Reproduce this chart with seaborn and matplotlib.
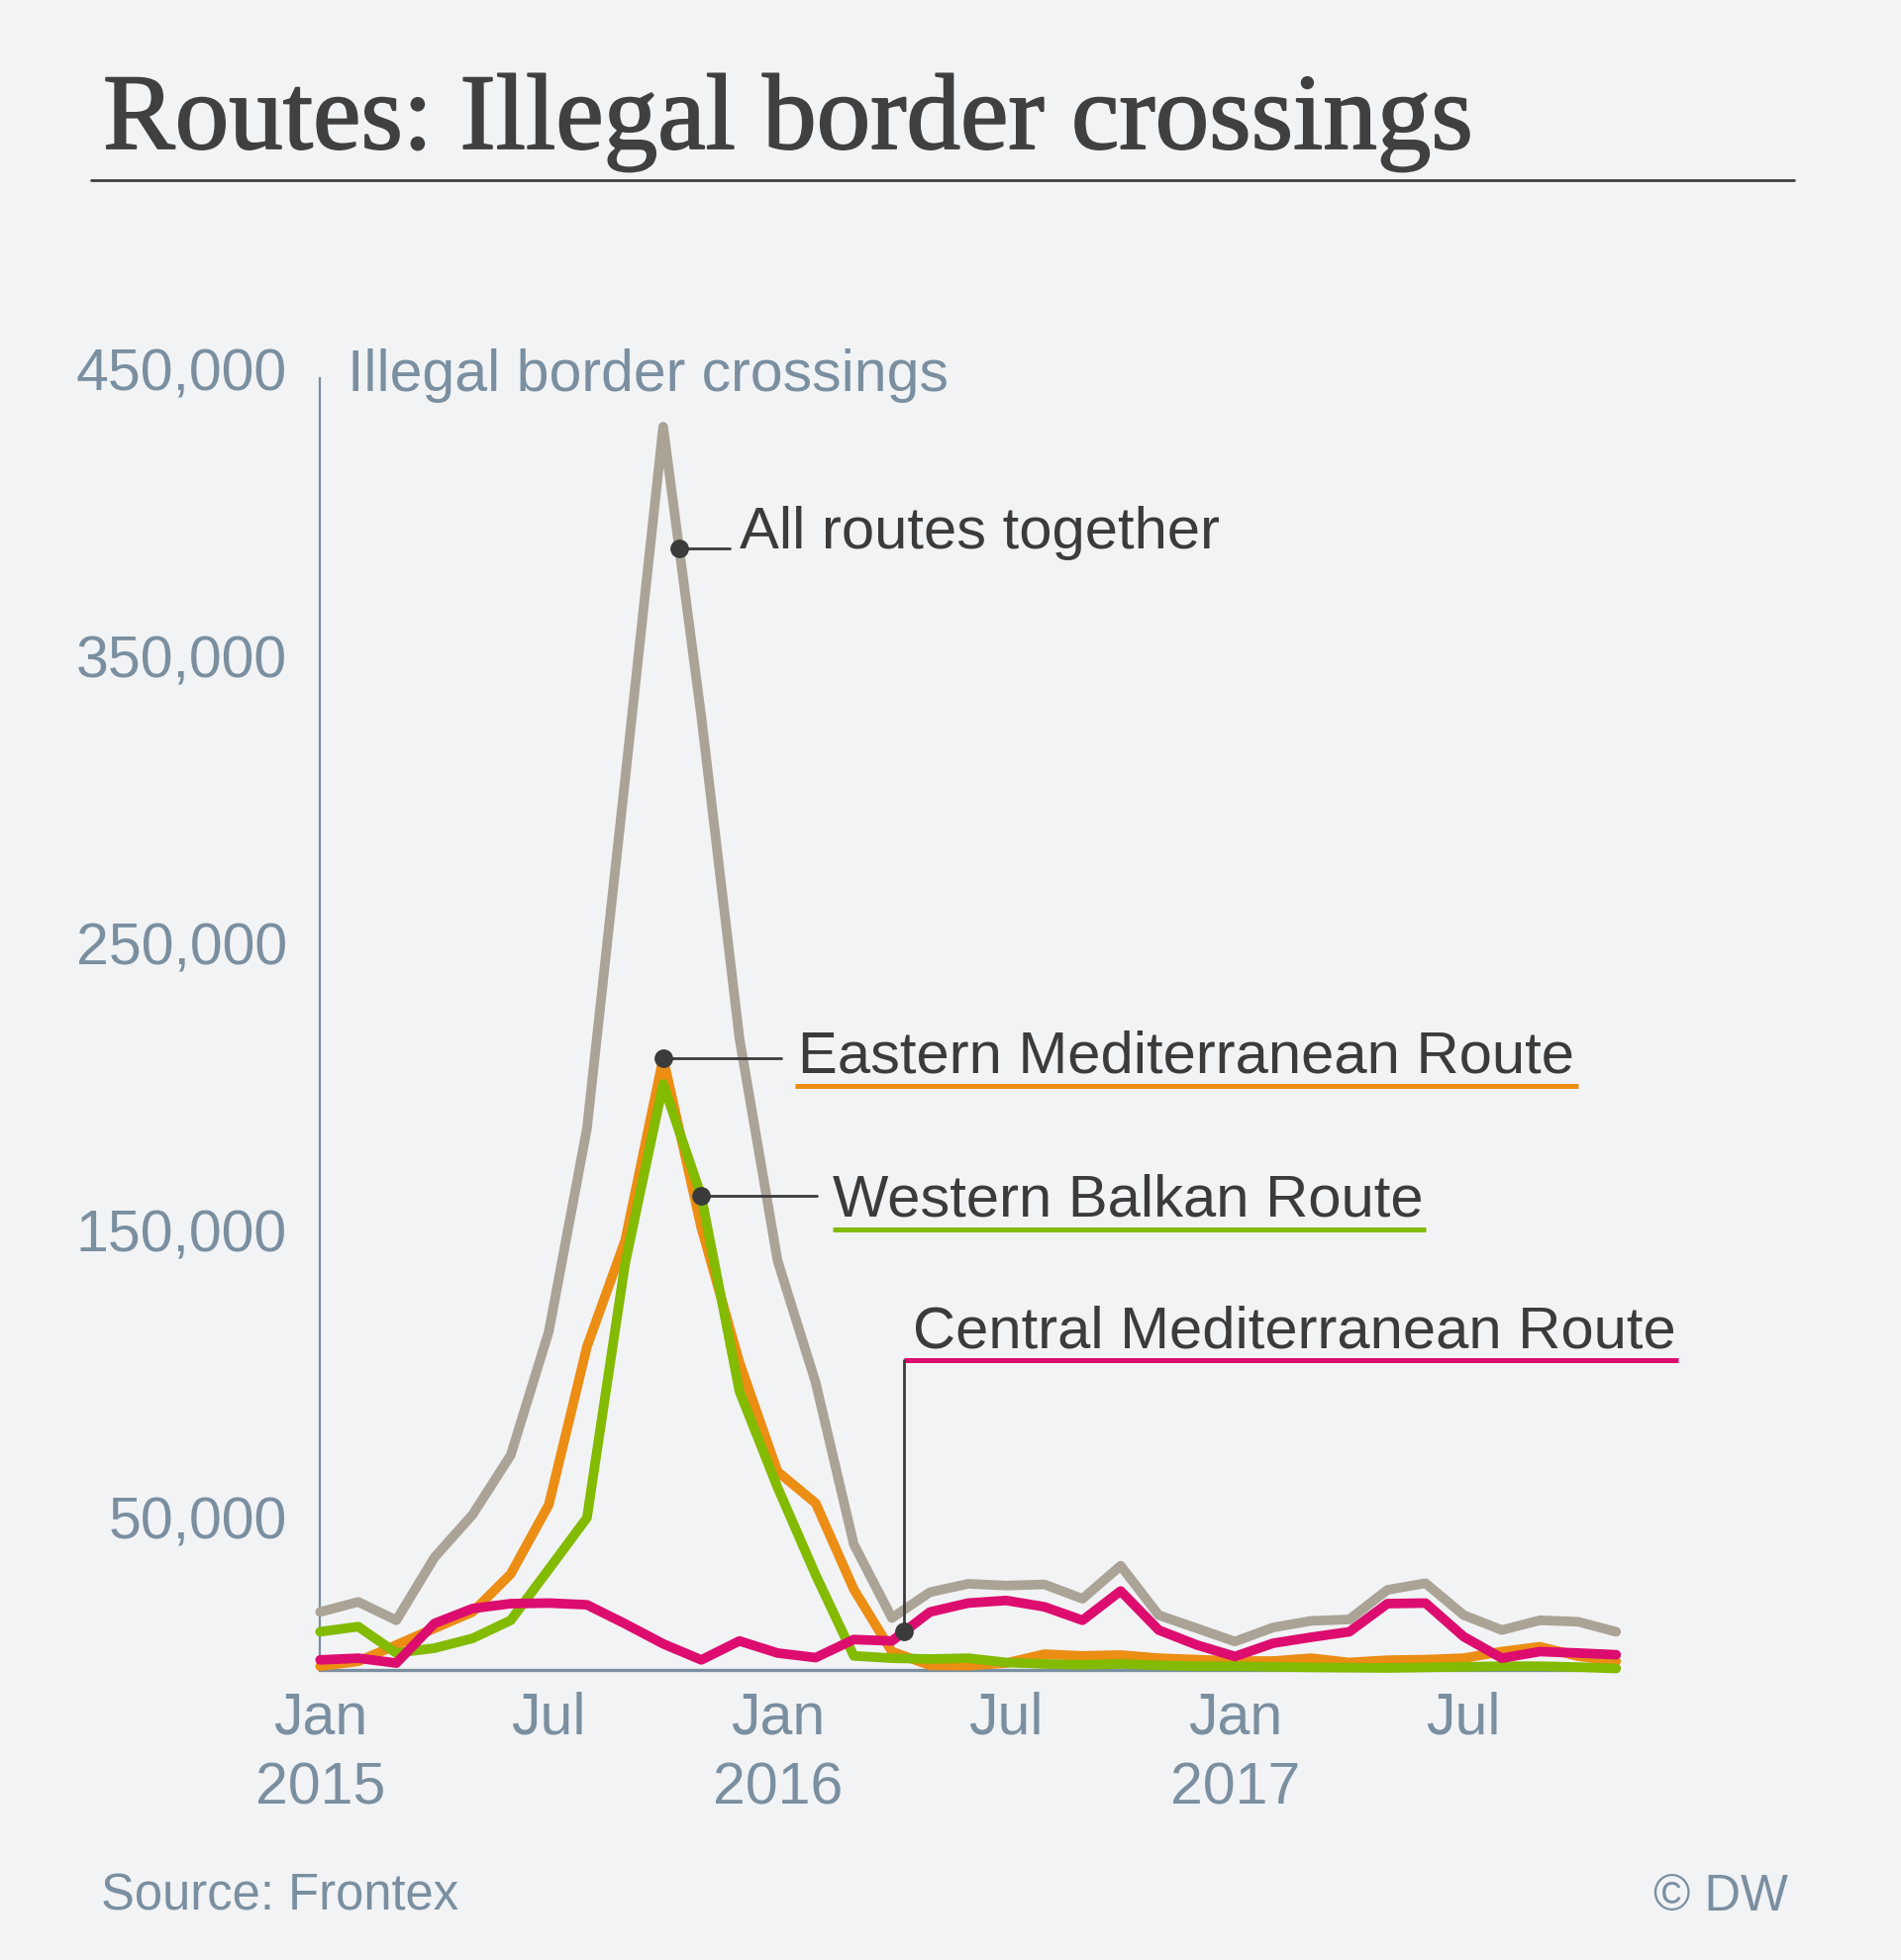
import numpy as np
import pandas as pd
import matplotlib.pyplot as plt
import matplotlib.patheffects as pe
import seaborn as sns
from matplotlib.lines import Line2D
from matplotlib.transforms import ScaledTranslation

months = pd.date_range("2015-01-01", periods=35, freq="MS")
all_routes = [20100, 23600, 17200, 39100, 54000, 74700, 117800, 188500, 310000, 433000,
              332000, 220000, 142500, 100000, 43700, 18000, 27000, 29900, 29300, 29700,
              24700, 36200, 19000, 14400, 9800, 14700, 17000, 17500, 27800, 30100,
              19000, 13800, 17200, 16700, 13200]
eastern_med = [1200, 2900, 8600, 14400, 20100, 33300, 57500, 112500, 149400, 213000,
               154000, 107000, 69000, 58000, 28000, 6300, 1500, 1400, 2300, 5400,
               4800, 5100, 4000, 3500, 3000, 3000, 4000, 2500, 3300, 3500,
               4000, 6300, 8000, 4700, 2900]
western_balkan = [13200, 15000, 5800, 7500, 10900, 17200, 35000, 52900, 141400, 204000,
                  165000, 97000, 63500, 33000, 4800, 4000, 3700, 4000, 2500, 2000,
                  1700, 2000, 1500, 1200, 1200, 1000, 800, 700, 600, 800,
                  1000, 1200, 1200, 900, 400]
central_med = [3400, 4000, 2300, 16100, 21300, 23000, 23200, 22600, 16000, 9000,
               3400, 10000, 5800, 4200, 10500, 10000, 20100, 23200, 24100, 21900,
               17200, 27400, 13800, 8600, 4600, 9200, 11300, 13200, 23000, 23200,
               11500, 4000, 6300, 5800, 5200]

route_names = ["All routes together", "Eastern Mediterranean Route",
               "Western Balkan Route", "Central Mediterranean Route"]
route_colors = ["#AAA396", "#EC8D14", "#83BA02", "#DD0D6F"]

x_tick_pos = [0, 6, 12, 18, 24, 30]
x_tick_labels = ["Jan\n2015", "Jul", "Jan\n2016", "Jul", "Jan\n2017", "Jul"]
y_ticks = [50000, 150000, 250000, 350000, 450000]
y_tick_labels = [f"{v:,}" for v in y_ticks]

BG = "#F2F3F5"
SLATE = "#7A8FA0"
DARK = "#3B3B3B"

idx = np.arange(len(months))
df = pd.DataFrame({"month": idx,
                   route_names[0]: all_routes,
                   route_names[1]: eastern_med,
                   route_names[2]: western_balkan,
                   route_names[3]: central_med})
long = df.melt(id_vars="month", var_name="route", value_name="crossings")

sns.set_style("white")
plt.rcParams["font.family"] = ["Liberation Sans", "DejaVu Sans"]

fig = plt.figure(figsize=(19.2, 19.8), dpi=100, facecolor=BG)
ax = fig.add_axes([0.16839, 0.14813, 0.68177, 0.65909])
ax.set_facecolor(BG)

sns.lineplot(data=long, x="month", y="crossings", hue="route", hue_order=route_names,
             palette=dict(zip(route_names, route_colors)), linewidth=7,
             legend=False, errorbar=None, ax=ax, zorder=3, clip_on=False,
             solid_joinstyle="round")

ax.set_xlim(0, 34)
ax.set_ylim(0, 450000)
ax.set_xlabel("")
ax.set_ylabel("")

for s in ["top", "right"]:
    ax.spines[s].set_visible(False)
ax.spines["left"].set_color(SLATE)
ax.spines["left"].set_linewidth(1.6)
ax.spines["bottom"].set_color(SLATE)
ax.spines["bottom"].set_linewidth(2.4)

ax.set_xticks(x_tick_pos)
ax.set_xticklabels(x_tick_labels, linespacing=1.36)
ax.set_yticks(y_ticks)
ax.set_yticklabels(y_tick_labels)
ax.tick_params(axis="both", length=0, labelsize=42.5, labelcolor=SLATE)
ax.tick_params(axis="x", pad=16)
ax.tick_params(axis="y", pad=24)
for lab in ax.get_yticklabels():
    lab.set_transform(lab.get_transform() + ScaledTranslation(0, 6.5 / 72, fig.dpi_scale_trans))

ax.text(0.73, 445400, "Illegal border crossings", fontsize=42.5, color=SLATE,
        va="baseline", ha="left")

# annotations
def dot(m, series):
    v = np.interp(m, idx, series)
    ax.plot([m], [v], "o", color=DARK, markersize=12.5, zorder=5, clip_on=False)
    return v

v = dot(9.42, all_routes)
ax.plot([9.42, 10.74], [v, v], color=DARK, lw=2, zorder=4)
ax.text(11.0, v, route_names[0], fontsize=43, color=DARK, va="baseline")

v = dot(9, eastern_med)
ax.plot([9, 12.10], [v, v], color=DARK, lw=2, zorder=4)
ax.text(12.54, 208070, route_names[1], fontsize=43, color=DARK, va="baseline")
ax.plot([12.46, 33.0], [203345, 203345], color=route_colors[1], lw=3.6,
        solid_capstyle="butt", clip_on=False)

v = dot(10, western_balkan)
ax.plot([10, 13.03], [v, v], color=DARK, lw=2, zorder=4)
ax.text(13.45, 158069, route_names[2], fontsize=43, color=DARK, va="baseline")
ax.plot([13.45, 29.0], [153448, 153448], color=route_colors[2], lw=3.6,
        solid_capstyle="butt", clip_on=False)

v = dot(15.32, central_med)
ax.plot([15.32, 15.32], [v, 107828], color=DARK, lw=2, zorder=4)
ax.text(15.55, 112310, route_names[3], fontsize=43, color=DARK, va="baseline")
ax.plot([15.32, 35.63], [107828, 107828], color=route_colors[3], lw=3.6,
        solid_capstyle="butt", clip_on=False)

# title, rule and footer
fig.text(104 / 1920, 1 - 150 / 1980, "Routes: Illegal border crossings",
         fontsize=78.5, family="Liberation Serif", color="#404040", va="baseline",
         path_effects=[pe.withStroke(linewidth=1.3, foreground="#404040")])
fig.add_artist(Line2D([92 / 1920, 1812 / 1920], [1 - 182.3 / 1980] * 2,
                      transform=fig.transFigure, color="#404040", lw=2.0))
fig.text(101.7 / 1920, 1 - 1930 / 1980, "Source: Frontex", fontsize=36.5,
         color=SLATE, va="baseline")
fig.text(1806 / 1920, 1 - 1930 / 1980, "© DW", fontsize=36.5, color=SLATE,
         va="baseline", ha="right")

fig.savefig("out.png", dpi=100, facecolor=BG)
